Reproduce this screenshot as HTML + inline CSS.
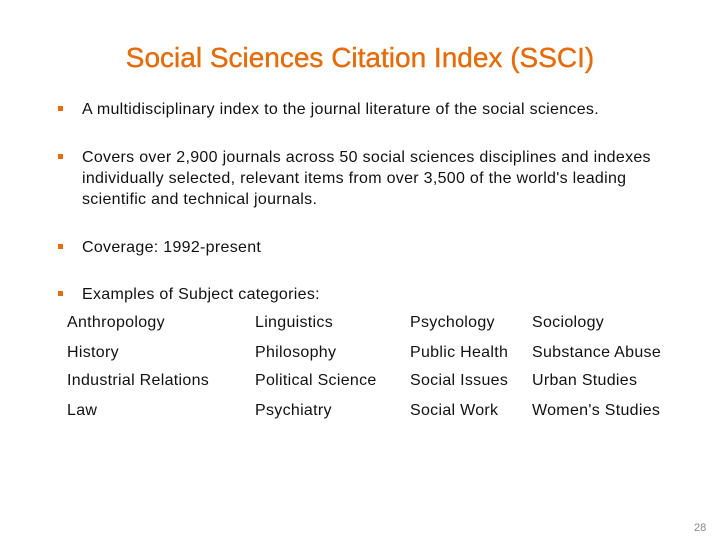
<!DOCTYPE html>
<html><head><meta charset="utf-8"><style>
body{margin:0;width:720px;height:540px;background:#fff;position:relative;overflow:hidden;font-family:"Liberation Sans",sans-serif;color:#111}
.t{position:absolute;white-space:nowrap;font-size:16px;line-height:21px;letter-spacing:0.3px}
.b{position:absolute;left:58px;width:5px;height:5px;background:#E46C0A}
#title{position:absolute;left:0;width:720px;top:42px;text-align:center;font-size:28px;color:#E46C0A;letter-spacing:0;-webkit-text-stroke:0.4px #E46C0A}
</style></head><body>
<div id="title">Social Sciences Citation Index (SSCI)</div>
<div class="b" style="top:106px"></div>
<div class="t" style="left:82px;top:99px">A multidisciplinary index to the journal literature of the social sciences.</div>
<div class="b" style="top:154px"></div>
<div class="t" style="left:82px;top:147px">Covers over 2,900 journals across 50 social sciences disciplines and indexes<br>individually selected, relevant items from over 3,500 of the world's leading<br>scientific and technical journals.</div>
<div class="b" style="top:244px"></div>
<div class="t" style="left:82px;top:237px">Coverage: 1992-present</div>
<div class="b" style="top:291px"></div>
<div class="t" style="left:82px;top:284px">Examples of Subject categories:</div>
<div>
<div class="t" style="left:67px;top:312px">Anthropology</div>
<div class="t" style="left:255px;top:312px">Linguistics</div>
<div class="t" style="left:410px;top:312px">Psychology</div>
<div class="t" style="left:532px;top:312px">Sociology</div>
<div class="t" style="left:67px;top:342px">History</div>
<div class="t" style="left:255px;top:342px">Philosophy</div>
<div class="t" style="left:410px;top:342px">Public Health</div>
<div class="t" style="left:532px;top:342px">Substance Abuse</div>
<div class="t" style="left:67px;top:370px">Industrial Relations</div>
<div class="t" style="left:255px;top:370px">Political Science</div>
<div class="t" style="left:410px;top:370px">Social Issues</div>
<div class="t" style="left:532px;top:370px">Urban Studies</div>
<div class="t" style="left:67px;top:400px">Law</div>
<div class="t" style="left:255px;top:400px">Psychiatry</div>
<div class="t" style="left:410px;top:400px">Social Work</div>
<div class="t" style="left:532px;top:400px">Women's Studies</div>
</div>
<div class="t" style="left:694px;top:518px;font-size:11px;letter-spacing:0;color:#888">28</div>
</body></html>
